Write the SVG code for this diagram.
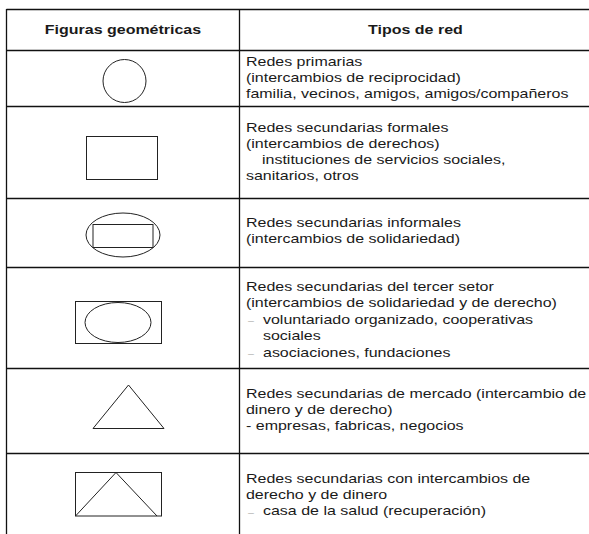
<svg xmlns="http://www.w3.org/2000/svg" width="589" height="534" viewBox="0 0 589 534">
<style>
.grid{stroke:#111;stroke-width:1.3;fill:none}
.shp{stroke:#222;stroke-width:1;fill:none}
text{font-family:"Liberation Sans",Arial,Helvetica,sans-serif;font-size:12px;fill:#1a1a1a}
.h{font-weight:bold;text-anchor:middle}
.d{fill:#999;font-size:8px}
</style>
<rect width="589" height="534" fill="#fff"/>
<g id="grid">
<line class="grid" x1="6.5" y1="9.5" x2="589" y2="9.5"/>
<line class="grid" x1="6.5" y1="50.5" x2="589" y2="50.5"/>
<line class="grid" x1="6.5" y1="106.5" x2="589" y2="106.5"/>
<line class="grid" x1="6.5" y1="198.5" x2="589" y2="198.5"/>
<line class="grid" x1="6.5" y1="267.5" x2="589" y2="267.5"/>
<line class="grid" x1="6.5" y1="368.5" x2="589" y2="368.5"/>
<line class="grid" x1="6.5" y1="453.5" x2="589" y2="453.5"/>
<line class="grid" x1="6.5" y1="9" x2="6.5" y2="534"/>
<line class="grid" x1="239.5" y1="9" x2="239.5" y2="534"/>
</g>
<g id="header" transform="scale(1.3333 1)">
<text class="h" x="92.25" y="34">Figuras geométricas</text>
<text class="h" x="311.6" y="34">Tipos de red</text>
</g>
<g id="row1">
<circle class="shp" cx="124.5" cy="81" r="21.5"/>
<g transform="scale(1.3333 1)">
<text x="184.5" y="66">Redes primarias</text>
<text x="184.5" y="82">(intercambios de reciprocidad)</text>
<text x="184.5" y="98">familia, vecinos, amigos, amigos/compañeros</text>
</g>
</g>
<g id="row2">
<rect class="shp" x="86.5" y="136.5" width="71" height="43"/>
<g transform="scale(1.3333 1)">
<text x="184.5" y="132">Redes secundarias formales</text>
<text x="184.5" y="148">(intercambios de derechos)</text>
<text x="196.5" y="164">instituciones de servicios sociales,</text>
<text x="184.5" y="180">sanitarios, otros</text>
</g>
</g>
<g id="row3">
<ellipse class="shp" cx="123" cy="235" rx="37" ry="22"/>
<rect class="shp" x="93" y="224.5" width="60" height="23"/>
<g transform="scale(1.3333 1)">
<text x="184.5" y="227">Redes secundarias informales</text>
<text x="184.5" y="243">(intercambios de solidariedad)</text>
</g>
</g>
<g id="row4">
<rect class="shp" x="75.5" y="301.5" width="86" height="42"/>
<ellipse class="shp" cx="118" cy="322.5" rx="33" ry="20"/>
<g transform="scale(1.3333 1)">
<text x="184.5" y="291">Redes secundarias del tercer setor</text>
<text x="184.5" y="307.5">(intercambios de solidariedad y de derecho)</text>
<text class="d" x="186" y="323">–</text>
<text x="197.25" y="324">voluntariado organizado, cooperativas</text>
<text x="197.25" y="340.5">sociales</text>
<text class="d" x="186" y="356">–</text>
<text x="197.25" y="357">asociaciones, fundaciones</text>
</g>
</g>
<g id="row5">
<polygon class="shp" points="128.5,385 164,428.5 93,428.5"/>
<g transform="scale(1.3333 1)">
<text x="184.5" y="398">Redes secundarias de mercado (intercambio de</text>
<text x="184.5" y="414">dinero y de derecho)</text>
<text x="184.5" y="430">- empresas, fabricas, negocios</text>
</g>
</g>
<g id="row6">
<rect class="shp" x="75.5" y="472.5" width="86" height="43.5"/>
<polyline class="shp" points="75.5,516 116,472.5 157,516"/>
<g transform="scale(1.3333 1)">
<text x="184.5" y="483">Redes secundarias con intercambios de</text>
<text x="184.5" y="499">derecho y de dinero</text>
<text class="d" x="186" y="515">–</text>
<text x="197.25" y="515">casa de la salud (recuperación)</text>
</g>
</g>
</svg>
